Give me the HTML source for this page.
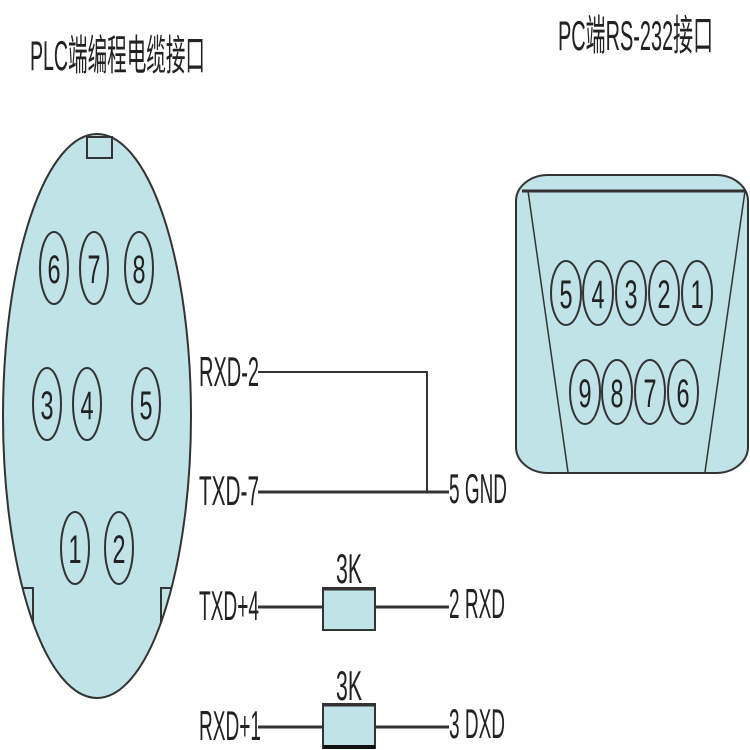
<!DOCTYPE html>
<html><head><meta charset="utf-8"><style>
html,body{margin:0;padding:0;background:#fff}
svg{display:block}
text{font-family:"Liberation Sans","Noto Sans CJK SC",sans-serif;fill:#222}
</style></head><body>
<svg width="750" height="750" viewBox="0 0 750 750" xmlns="http://www.w3.org/2000/svg">
<defs><clipPath id="ec"><ellipse cx="97" cy="416" rx="94" ry="282"/></clipPath></defs>
<text x="30" y="70" font-size="42" textLength="175" lengthAdjust="spacingAndGlyphs">PLC端编程电缆接口</text>
<text x="558" y="50" font-size="42" textLength="155" lengthAdjust="spacingAndGlyphs">PC端RS-232接口</text>

<!-- left connector -->
<ellipse cx="97" cy="416" rx="94" ry="282" fill="#bfe3e6" stroke="#333" stroke-width="2"/>
<rect x="87" y="137" width="25" height="21" fill="#bfe3e6" stroke="#333" stroke-width="2"/>
<g clip-path="url(#ec)">
<path d="M0 588 H33 V700" fill="none" stroke="#333" stroke-width="2"/>
<path d="M195 588 H161 V700" fill="none" stroke="#333" stroke-width="2"/>
</g>
<g fill="none" stroke="#333" stroke-width="2">
<ellipse cx="54" cy="268" rx="14" ry="36"/><ellipse cx="94" cy="268" rx="14" ry="36"/><ellipse cx="139" cy="268" rx="14" ry="36"/>
<ellipse cx="47" cy="404" rx="14" ry="36"/><ellipse cx="87" cy="404" rx="14" ry="36"/><ellipse cx="146" cy="404" rx="14" ry="36"/>
<ellipse cx="75" cy="548" rx="14" ry="36"/><ellipse cx="119" cy="548" rx="14" ry="36"/>
</g>
<g font-size="40" text-anchor="middle">
<text x="54" y="283" textLength="13" lengthAdjust="spacingAndGlyphs">6</text>
<text x="94" y="283" textLength="13" lengthAdjust="spacingAndGlyphs">7</text>
<text x="139" y="283" textLength="13" lengthAdjust="spacingAndGlyphs">8</text>
<text x="47" y="419" textLength="13" lengthAdjust="spacingAndGlyphs">3</text>
<text x="87" y="419" textLength="13" lengthAdjust="spacingAndGlyphs">4</text>
<text x="146" y="419" textLength="13" lengthAdjust="spacingAndGlyphs">5</text>
<text x="75" y="563" textLength="13" lengthAdjust="spacingAndGlyphs">1</text>
<text x="119" y="563" textLength="13" lengthAdjust="spacingAndGlyphs">2</text>
</g>

<!-- right connector -->
<rect x="516" y="175" width="232" height="298" rx="32" ry="26" fill="#bfe3e6" stroke="#333" stroke-width="2"/>
<line x1="522" y1="191" x2="746" y2="191" stroke="#333" stroke-width="3"/>
<line x1="528" y1="191" x2="568" y2="472" stroke="#333" stroke-width="1.5"/>
<line x1="745" y1="191" x2="705" y2="472" stroke="#333" stroke-width="1.5"/>
<g fill="none" stroke="#333" stroke-width="2">
<ellipse cx="566" cy="293" rx="15" ry="32"/><ellipse cx="598" cy="293" rx="15" ry="32"/><ellipse cx="631" cy="293" rx="15" ry="32"/><ellipse cx="664" cy="293" rx="15" ry="32"/><ellipse cx="697" cy="293" rx="15" ry="32"/>
<ellipse cx="585" cy="392" rx="15" ry="32"/><ellipse cx="617" cy="392" rx="15" ry="32"/><ellipse cx="650" cy="392" rx="15" ry="32"/><ellipse cx="683" cy="392" rx="15" ry="32"/>
</g>
<g font-size="40" text-anchor="middle">
<text x="566" y="308" textLength="13" lengthAdjust="spacingAndGlyphs">5</text>
<text x="598" y="308" textLength="13" lengthAdjust="spacingAndGlyphs">4</text>
<text x="631" y="308" textLength="13" lengthAdjust="spacingAndGlyphs">3</text>
<text x="664" y="308" textLength="13" lengthAdjust="spacingAndGlyphs">2</text>
<text x="697" y="308" textLength="13" lengthAdjust="spacingAndGlyphs">1</text>
<text x="585" y="407" textLength="13" lengthAdjust="spacingAndGlyphs">9</text>
<text x="617" y="407" textLength="13" lengthAdjust="spacingAndGlyphs">8</text>
<text x="650" y="407" textLength="13" lengthAdjust="spacingAndGlyphs">7</text>
<text x="683" y="407" textLength="13" lengthAdjust="spacingAndGlyphs">6</text>
</g>

<!-- wires -->
<g stroke="#333" fill="none">
<path d="M258 372 H427 V492" stroke-width="2"/>
<line x1="258" y1="492" x2="449" y2="492" stroke-width="3"/>
<line x1="258" y1="607" x2="449" y2="607" stroke-width="3"/>
<line x1="258" y1="727" x2="449" y2="727" stroke-width="3"/>
</g>
<rect x="323" y="588" width="52" height="42" fill="#bfe3e6" stroke="#333" stroke-width="2"/>
<line x1="323" y1="589" x2="375" y2="589" stroke="#333" stroke-width="3"/>
<rect x="323" y="704" width="52" height="44" fill="#bfe3e6" stroke="#333" stroke-width="2"/>
<line x1="323" y1="705" x2="375" y2="705" stroke="#333" stroke-width="3"/>
<line x1="323" y1="747" x2="375" y2="747" stroke="#111" stroke-width="4"/>

<g font-size="42">
<text x="199" y="386" textLength="60" lengthAdjust="spacingAndGlyphs">RXD-2</text>
<text x="199" y="505" textLength="60" lengthAdjust="spacingAndGlyphs">TXD-7</text>
<text x="199" y="620" textLength="60" lengthAdjust="spacingAndGlyphs">TXD+4</text>
<text x="199" y="740" textLength="62" lengthAdjust="spacingAndGlyphs">RXD+1</text>
<text x="449" y="503" textLength="58" lengthAdjust="spacingAndGlyphs">5 GND</text>
<text x="449" y="618" textLength="56" lengthAdjust="spacingAndGlyphs">2 RXD</text>
<text x="449" y="738" textLength="56" lengthAdjust="spacingAndGlyphs">3 DXD</text>
<text x="336" y="583" textLength="26" lengthAdjust="spacingAndGlyphs">3K</text>
<text x="336" y="700" textLength="26" lengthAdjust="spacingAndGlyphs">3K</text>
</g>
</svg>
</body></html>
